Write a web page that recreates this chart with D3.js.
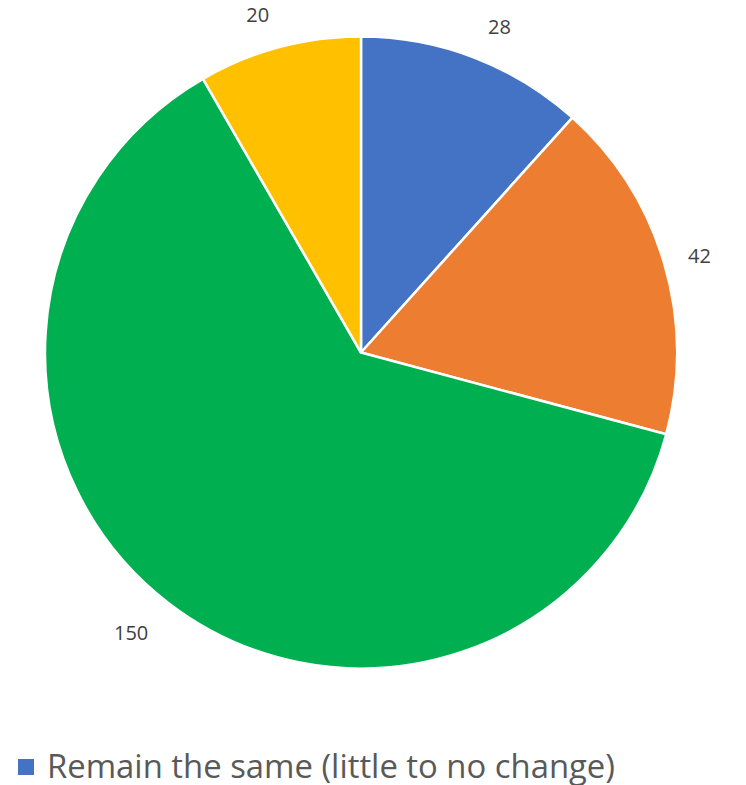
<!DOCTYPE html>
<html>
<head>
<meta charset="utf-8">
<script src="https://cdn.jsdelivr.net/npm/d3@7"></script>
<style>
  html, body { margin: 0; padding: 0; background: #ffffff; }
  svg { display: block; }
</style>
</head>
<body>
<svg id="chart" width="746" height="785"></svg>
<script>
// Responses per category
const categories = ["Remain the same (little to no change)", "Increase", "Decrease", "Unsure"];
const values = [28, 42, 150, 20];
const colors = ["#4472C4", "#ED7D31", "#00B050", "#FFC000"];
// Small nudges that push each value label just clear of its slice
const labelNudgeX = [12, 0, -15, -12];
const labelNudgeY = [4, 3, 0, 3];
// Only the first entry of the legend fits on the canvas
const legendItems = [categories[0]];

const svg = d3.select("#chart");
const cx = 361, cy = 352.5, radius = 316;

const pie = d3.pie().sort(null).value(d => d)(values);
const arc = d3.arc().innerRadius(0).outerRadius(radius);
const labelArc = d3.arc().innerRadius(353).outerRadius(353);

const g = svg.append("g").attr("transform", `translate(${cx},${cy})`);

g.selectAll("path.slice")
  .data(pie)
  .join("path")
  .attr("class", "slice")
  .attr("d", arc)
  .attr("fill", (d, i) => colors[i])
  .attr("stroke", "#ffffff")
  .attr("stroke-width", 2.5)
  .attr("stroke-linejoin", "round");

g.selectAll("text.value")
  .data(pie)
  .join("text")
  .attr("class", "value")
  .attr("x", (d, i) => labelArc.centroid(d)[0] + labelNudgeX[i])
  .attr("y", (d, i) => labelArc.centroid(d)[1] + labelNudgeY[i])
  .attr("text-anchor", "middle")
  .attr("dominant-baseline", "central")
  .attr("font-family", "'Open Sans', 'Liberation Sans', sans-serif")
  .attr("font-size", 20)
  .attr("fill", "#404040")
  .text(d => d.data);

// Legend
const legend = svg.append("g").attr("transform", "translate(18,759)");
legendItems.forEach((name, i) => {
  legend.append("rect")
    .attr("x", 0).attr("y", 0)
    .attr("width", 16).attr("height", 16)
    .attr("fill", colors[i]);
  legend.append("text")
    .attr("x", 29)
    .attr("y", 19)
    .attr("font-family", "'Open Sans', 'Liberation Sans', sans-serif")
    .attr("font-size", 32)
    .attr("fill", "#595959")
    .attr("textLength", 568)
    .attr("lengthAdjust", "spacingAndGlyphs")
    .text(name);
});
</script>
</body>
</html>
